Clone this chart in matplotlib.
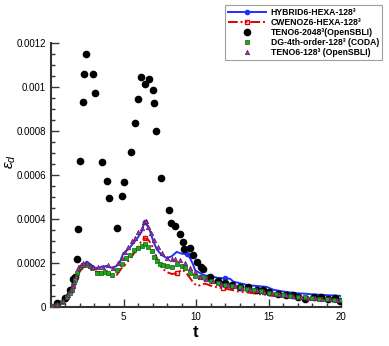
import numpy as np
import matplotlib.pyplot as plt

plt.rcParams['font.family'] = ['Liberation Sans', 'DejaVu Sans']
plt.rcParams['mathtext.fontset'] = 'custom'
plt.rcParams['mathtext.rm'] = 'Liberation Sans'
plt.rcParams['mathtext.it'] = 'Liberation Sans:italic'
plt.rcParams['mathtext.bf'] = 'Liberation Sans:bold'

# HYBRID6-HEXA-128^3
t_hyb = [0, 0.4, 0.7, 1.0, 1.3, 1.5, 1.7, 2.0, 2.3, 2.46, 2.7, 3.03, 3.3, 3.5, 3.84, 4.19, 4.5, 4.76,
         4.99, 5.33, 5.68, 5.98, 6.25, 6.45, 6.6, 6.83, 7.06, 7.29, 7.63, 7.98, 8.32, 8.67, 9.0, 9.36,
         9.6, 9.81, 9.95, 10.16, 10.5, 11.08, 11.5, 12.0, 12.34, 12.57, 13.0, 13.5, 14.0, 14.5, 14.87,
         15.33, 16.0, 16.94, 17.5, 18.0, 18.55, 19.0, 19.5, 19.93]
y_hyb = [0, 1.2e-5, 2.4e-5, 4.5e-5, 7.4e-5, 1.0e-4, 1.3e-4, 1.68e-4, 1.92e-4, 2.06e-4, 1.95e-4, 1.78e-4,
         1.76e-4, 1.83e-4, 1.86e-4, 1.78e-4, 1.85e-4, 2.06e-4, 2.44e-4, 2.62e-4, 2.9e-4, 3.15e-4,
         3.42e-4, 3.88e-4, 3.75e-4, 3.45e-4, 2.97e-4, 2.62e-4, 2.36e-4, 2.22e-4, 2.3e-4, 2.5e-4, 2.42e-4,
         2.4e-4, 2.2e-4, 1.9e-4, 1.65e-4, 1.58e-4, 1.45e-4, 1.38e-4, 1.32e-4, 1.3e-4, 1.28e-4, 1.15e-4,
         1.08e-4, 1.0e-4, 9.6e-5, 9.3e-5, 9.1e-5, 7.8e-5, 7.0e-5, 6.2e-5, 6.0e-5, 5.7e-5, 5.5e-5,
         5.3e-5, 5.2e-5, 5.0e-5]

# CWENOZ6-HEXA-128^3
t_cw = [0, 0.4, 0.7, 1.0, 1.3, 1.5, 1.7, 2.0, 2.3, 2.5, 2.7, 3.03, 3.5, 3.95, 4.3, 4.53, 4.87, 5.22,
        5.56, 5.91, 6.25, 6.48, 6.71, 6.94, 7.17, 7.4, 7.63, 7.98, 8.32, 8.67, 9.06, 9.36, 9.6, 9.81,
        10.05, 10.28, 10.62, 11.2, 11.88, 12.4, 12.92, 13.5, 13.95, 14.4, 14.87, 15.3, 15.79, 16.4,
        16.94, 17.7, 18.55, 19.2, 19.93]
y_cw = [0, 1.1e-5, 2.2e-5, 4.2e-5, 7.0e-5, 9.6e-5, 1.25e-4, 1.62e-4, 1.85e-4, 1.88e-4, 1.75e-4,
        1.62e-4, 1.55e-4, 1.45e-4, 1.38e-4, 1.45e-4, 1.76e-4, 1.99e-4, 2.29e-4, 2.59e-4, 3.02e-4,
        3.12e-4, 3.05e-4, 2.82e-4, 2.44e-4, 2.06e-4, 1.78e-4, 1.58e-4, 1.5e-4, 1.52e-4, 1.7e-4,
        1.5e-4, 1.3e-4, 1.1e-4, 9.6e-5, 9.8e-5, 1.06e-4, 9.2e-5, 8.5e-5, 7.8e-5, 7.0e-5, 6.6e-5,
        6.2e-5, 5.8e-5, 5.5e-5, 5.0e-5, 4.7e-5, 4.3e-5, 4.0e-5, 3.8e-5, 3.5e-5, 3.2e-5, 2.9e-5]

# TENO6-2048^3 (OpenSBLI)
t_ref = [0.39, 0.97, 1.3, 1.54, 1.66, 1.79, 1.86, 2.0, 2.18, 2.30, 2.44, 2.92, 3.01, 3.54, 3.84, 4.0,
         4.57, 4.87, 5.01, 5.49, 5.82, 5.98, 6.21, 6.48, 6.78, 7.01, 7.08, 7.26, 7.56, 8.11, 8.30, 8.55,
         8.90, 9.08, 9.17, 9.56, 9.77, 10.09, 10.32, 10.51, 10.97, 11.5, 12.0, 12.46, 13.0, 13.55,
         14.19, 14.64, 15.0, 15.68, 16.2, 16.7, 17.0, 17.52, 18.1, 18.6, 19.1, 19.6, 19.95]
y_ref = [1.7e-5, 4.0e-5, 7.5e-5, 1.26e-4, 1.36e-4, 2.17e-4, 3.55e-4, 6.62e-4, 9.3e-4, 1.06e-3,
         1.15e-3, 1.06e-3, 9.74e-4, 6.58e-4, 5.73e-4, 4.94e-4, 3.6e-4, 5.06e-4, 5.7e-4, 7.06e-4,
         8.36e-4, 9.45e-4, 1.045e-3, 1.014e-3, 1.038e-3, 9.86e-4, 9.27e-4, 8.01e-4, 5.88e-4, 4.4e-4,
         3.82e-4, 3.7e-4, 3.3e-4, 2.94e-4, 2.65e-4, 2.7e-4, 2.36e-4, 2.05e-4, 1.83e-4, 1.71e-4,
         1.38e-4, 1.2e-4, 1.1e-4, 1.0e-4, 9.2e-5, 9.0e-5, 7.6e-5, 7.6e-5, 7.0e-5, 6.0e-5, 5.6e-5,
         5.3e-5, 4.7e-5, 3.8e-5, 4.4e-5, 4.4e-5, 3.6e-5, 4.0e-5, 2.8e-5]

# DG-4th-order-128^3 (CODA)
t_dg = [0.1, 0.39, 0.74, 1.08, 1.3, 1.43, 1.54, 1.66, 1.77, 2.0, 2.23, 2.5, 2.8, 3.15, 3.45, 3.7, 3.95,
        4.23, 4.53, 4.87, 5.15, 5.45, 5.75, 6.02, 6.25, 6.48, 6.71, 6.94, 7.12, 7.29, 7.52, 7.75, 7.98,
        8.32, 8.67, 9.01, 9.24, 9.59, 9.93, 10.28, 10.6, 11.0, 11.5, 12.0, 12.5, 13.0, 13.5, 14.0,
        14.5, 15.0, 15.5, 16.0, 16.5, 17.0, 17.5, 18.0, 18.5, 19.0, 19.5, 20.0]
y_dg = [2e-6, 1.0e-5, 2.4e-5, 4.7e-5, 6.5e-5, 7.7e-5, 1.0e-4, 1.23e-4, 1.53e-4, 1.83e-4, 1.9e-4,
        1.9e-4, 1.75e-4, 1.56e-4, 1.55e-4, 1.58e-4, 1.55e-4, 1.45e-4, 1.7e-4, 1.97e-4, 2.21e-4,
        2.36e-4, 2.59e-4, 2.7e-4, 2.78e-4, 2.85e-4, 2.74e-4, 2.55e-4, 2.26e-4, 2.09e-4, 1.95e-4,
        1.91e-4, 1.88e-4, 1.8e-4, 1.95e-4, 1.88e-4, 1.76e-4, 1.56e-4, 1.41e-4, 1.36e-4, 1.3e-4,
        1.2e-4, 1.1e-4, 1.0e-4, 9.5e-5, 9.0e-5, 8.2e-5, 7.8e-5, 7.2e-5, 6.5e-5, 6.0e-5, 5.5e-5,
        5.0e-5, 4.7e-5, 4.3e-5, 4.0e-5, 3.8e-5, 3.5e-5, 3.3e-5, 3.0e-5]

# TENO6-128^3 (OpenSBLI)
t_teno = [0.1, 0.45, 0.8, 1.15, 1.35, 1.5, 1.62, 1.75, 1.89, 2.05, 2.23, 2.46, 2.69, 2.92, 3.26, 3.6,
          3.95, 4.3, 4.6, 4.87, 5.1, 5.33, 5.56, 5.79, 6.02, 6.25, 6.4, 6.58, 6.71, 6.9, 7.12, 7.4,
          7.63, 7.98, 8.32, 8.55, 8.9, 9.24, 9.59, 9.93, 10.3, 10.7, 11.2, 11.7, 12.2, 12.7, 13.2,
          13.7, 14.2, 14.7, 15.2, 15.7, 16.2, 16.7, 17.2, 17.7, 18.2, 18.7, 19.2, 19.7]
y_teno = [3e-6, 1.3e-5, 2.8e-5, 5.5e-5, 7.5e-5, 9.5e-5, 1.15e-4, 1.4e-4, 1.75e-4, 1.9e-4, 1.99e-4,
          1.99e-4, 1.86e-4, 1.83e-4, 1.83e-4, 1.8e-4, 1.91e-4, 1.76e-4, 1.99e-4, 2.21e-4, 2.51e-4,
          2.74e-4, 3.0e-4, 3.15e-4, 3.4e-4, 3.6e-4, 3.88e-4, 3.9e-4, 3.65e-4, 3.35e-4, 3.05e-4,
          2.74e-4, 2.44e-4, 2.21e-4, 2.17e-4, 2.17e-4, 2.14e-4, 2.0e-4, 1.76e-4, 1.6e-4, 1.35e-4,
          1.28e-4, 1.16e-4, 1.06e-4, 9.8e-5, 9.3e-5, 8.6e-5, 8.0e-5, 7.5e-5, 7.0e-5, 6.3e-5, 5.8e-5,
          5.3e-5, 4.9e-5, 4.5e-5, 4.2e-5, 3.9e-5, 3.7e-5, 3.4e-5, 3.2e-5]

fig = plt.figure(figsize=(3.89, 3.46), dpi=100)
ax = fig.add_axes([0.131, 0.113, 0.746, 0.763])

ax.plot(t_hyb, y_hyb, color='#1f2fff', lw=1.4, marker='o', ms=3, markevery=[23, 33, 41],
        label='HYBRID6-HEXA-128³', zorder=3)
ax.plot(t_cw, y_cw, color='#e00000', lw=1.4, dashes=[5, 1.5, 1, 1.5, 1, 1.5], marker='s', ms=2.5,
        mfc='none', markevery=[21, 29, 38], label='CWENOZ6-HEXA-128³', zorder=3)
ax.plot(t_ref, y_ref, 'o', color='black', ms=4.5, label='TENO6-2048³(OpenSBLI)', zorder=4)
ax.plot(t_dg, y_dg, 's', color='#10b010', mec='#1a5a1a', mew=0.5, ms=3,
        label='DG-4th-order-128³ (CODA)', zorder=5)
ax.plot(t_teno, y_teno, '^', color='#a03090', mec='#602060', mew=0.5, ms=3.2,
        label='TENO6-128³ (OpenSBLI)', zorder=5)

ax.set_xlim(0, 20)
ax.set_ylim(0, 0.0012)
ax.set_xticks([5, 10, 15, 20])
ax.set_xticks(np.arange(0, 21, 1), minor=True)
ax.set_yticks([0, 0.0002, 0.0004, 0.0006, 0.0008, 0.001, 0.0012])
ax.set_yticklabels(['0', '0.0002', '0.0004', '0.0006', '0.0008', '0.001', '0.0012'])
ax.set_yticks(np.arange(0, 0.00121, 0.00005), minor=True)
ax.tick_params(which='both', direction='in', labelsize=7, color='#333333', width=1)
ax.tick_params(which='major', length=6)
ax.tick_params(which='minor', length=3)
for s in ['top', 'right']:
    ax.spines[s].set_visible(False)
for s in ['left', 'bottom']:
    ax.spines[s].set_linewidth(1.5)
    ax.spines[s].set_color('#333333')
ax.set_xlabel('t', fontsize=12, fontweight='bold', labelpad=2)
ax.set_ylabel(r'$\varepsilon_d$', fontsize=11)
ax.yaxis.set_label_coords(-0.115, 0.55)

leg = fig.legend(loc='upper right', bbox_to_anchor=(0.982, 0.985), fontsize=6.2, frameon=True,
                 fancybox=False, edgecolor='#888888', handlelength=4.4, borderpad=0.35,
                 labelspacing=0.1, handletextpad=0.6, borderaxespad=0)
leg.get_frame().set_linewidth(0.8)
for txt in leg.get_texts():
    txt.set_fontweight('bold')

fig.savefig('out.png', dpi=100)
